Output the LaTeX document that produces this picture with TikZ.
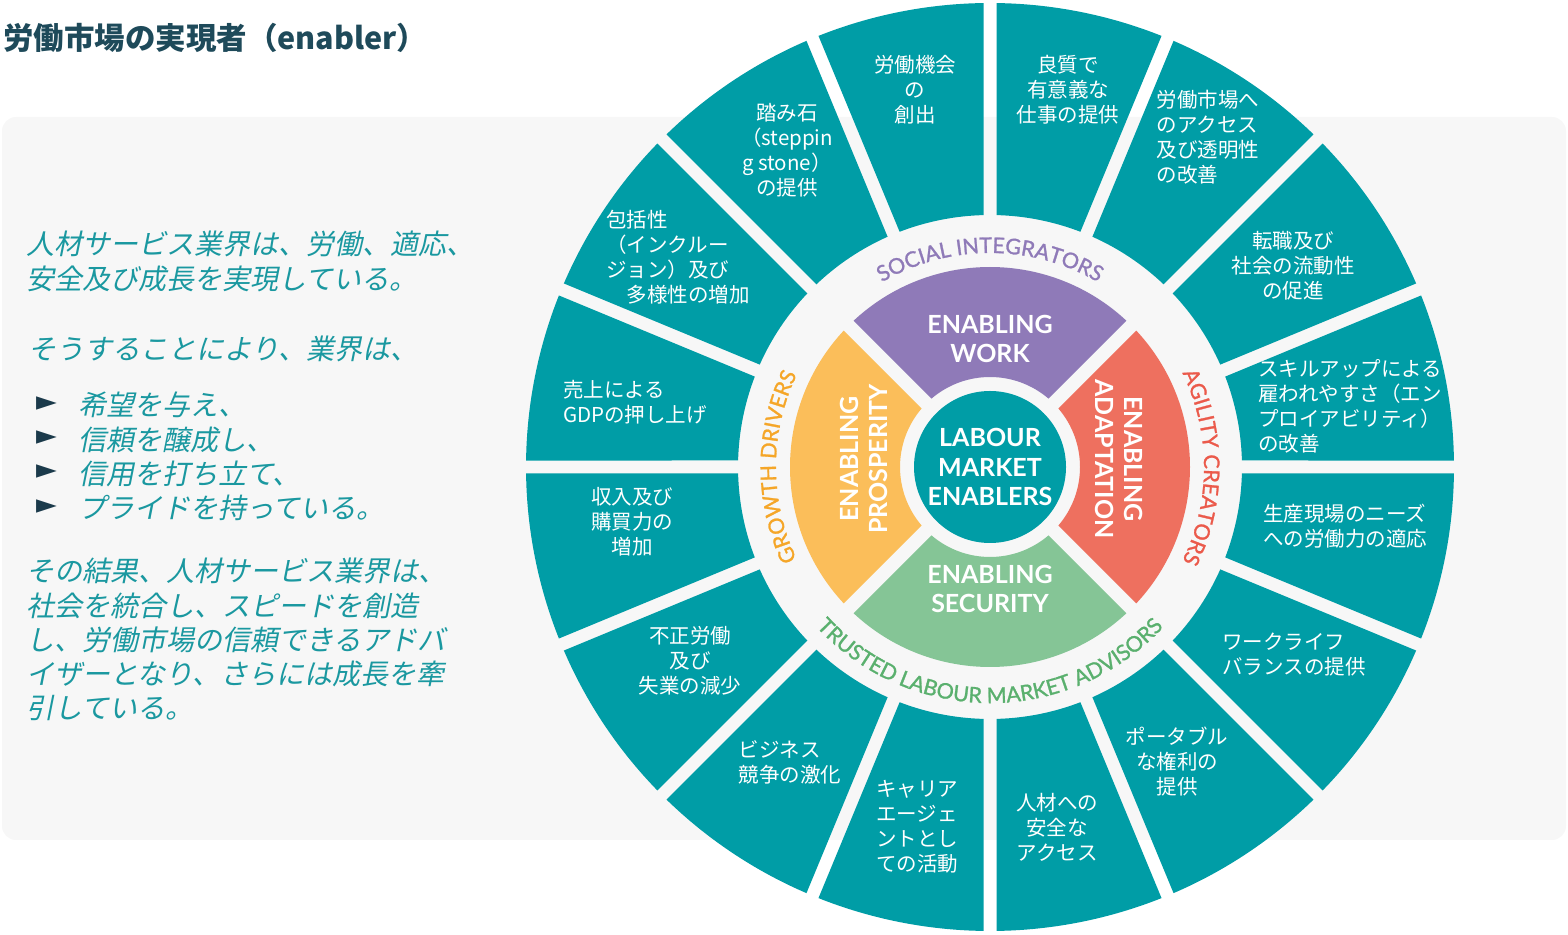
\documentclass[tikz,border=0pt]{standalone}
\usepackage{fontspec}
\setmainfont{Noto Sans CJK JP}
\newfontfamily\slantjp[FakeSlant=0.2]{Noto Sans CJK JP}
\newfontfamily\latofont{Lato}
\newfontfamily\curvefam[FakeBold=1.2]{Lato}
\newfontfamily\symbfont{DejaVu Sans}
\usetikzlibrary{decorations.text}

\definecolor{segteal}{RGB}{0,157,166}
\definecolor{panelgray}{RGB}{247,247,247}
\definecolor{titlenavy}{RGB}{30,74,90}
\definecolor{bodyteal}{RGB}{26,152,160}
\definecolor{bulletnavy}{RGB}{27,58,75}
\definecolor{workpurple}{RGB}{143,122,184}
\definecolor{prosyellow}{RGB}{251,190,90}
\definecolor{secgreen}{RGB}{133,197,150}
\definecolor{adaptred}{RGB}{238,112,95}
\definecolor{socialpurple}{RGB}{143,122,184}
\definecolor{agilityred}{RGB}{235,90,75}
\definecolor{growthorange}{RGB}{245,166,40}
\definecolor{trustgreen}{RGB}{90,176,110}

\newcommand{\curvefont}{\curvefam\fontsize{21.5}{21.5}\selectfont}

\begin{document}
\begin{tikzpicture}[x=1pt,y=1pt,
	seglabel/.style={text=white,font=\fontsize{20.5}{25}\selectfont,align=center,inner sep=0pt},
	seglabelL/.style={seglabel,align=left},
	hublabel/.style={text=white,font=\latofont\bfseries\fontsize{25}{29.5}\selectfont,align=center,inner sep=0pt},
	bodytext/.style={text=bodyteal,font=\slantjp\fontsize{28}{34.3}\selectfont,align=left,inner sep=0pt},
	bulletmark/.style={text=bulletnavy,font=\symbfont\fontsize{27}{27}\selectfont,inner sep=0pt}]
	\useasboundingbox (0,0) rectangle (1568,934);
	% draw background panel
	\fill[panelgray,rounded corners=14pt] (2,94) rectangle (1566,817);
	% draw title
	\node[anchor=west,inner sep=0pt,text=titlenavy,font=\bfseries\fontsize{30.5}{30.5}\selectfont] (title) at (3,896) {労働市場の実現者（enabler）};
	% draw left text
	\node[bodytext,anchor=north west] (intro) at (26,703) {人材サービス業界は、労働、適応、\\安全及び成長を実現している。};
	\node[bodytext,anchor=north west] (thereby) at (28,598) {そうすることにより、業界は、};
	\foreach \t [count=\i] in {希望を与え、,信頼を醸成し、,信用を打ち立て、,プライドを持っている。} {
		\node[bulletmark,anchor=west] (b\i) at (36,{565-34.3*\i}) {►};
		\node[bodytext,anchor=west] (t\i) at (78,{563-34.3*\i}) {\t};
	}
	\node[bodytext,anchor=north west] (result) at (26,376) {その結果、人材サービス業界は、\\社会を統合し、スピードを創造\\し、労働市場の信頼できるアドバ\\イザーとなり、さらには成長を牽\\引している。};
	\begin{scope}[shift={(990,467)}]
		% draw outer ring
		\pgfmathsetmacro\dR{asin(6.5/464)}
		\pgfmathsetmacro\dr{asin(6.5/252)}
		\foreach \a in {0,22.5,...,337.5} {
			\pgfmathsetmacro\sa{\a+\dR}
			\pgfmathsetmacro\ea{\a+22.5-\dR}
			\pgfmathsetmacro\si{\a+22.5-\dr}
			\pgfmathsetmacro\ei{\a+\dr}
			\fill[segteal] (\sa:464) arc[start angle=\sa,end angle=\ea,radius=464] -- (\si:252) arc[start angle=\si,end angle=\ei,radius=252] -- cycle;
		}
		% draw coloured quarters
		\pgfmathsetmacro\qR{asin(7/200)}
		\pgfmathsetmacro\qr{asin(7/90)}
		\foreach \a/\col in {45/workpurple,135/prosyellow,225/secgreen,315/adaptred} {
			\pgfmathsetmacro\sa{\a+\qR}
			\pgfmathsetmacro\ea{\a+90-\qR}
			\pgfmathsetmacro\si{\a+90-\qr}
			\pgfmathsetmacro\ei{\a+\qr}
			\fill[\col] (\sa:200) arc[start angle=\sa,end angle=\ea,radius=200] -- (\si:90) arc[start angle=\si,end angle=\ei,radius=90] -- cycle;
		}
		% hub and quarter labels
		\node[circle,fill=segteal,minimum size=152pt,hublabel] (hub) at (0,0) {LABOUR\\MARKET\\ENABLERS};
		\node[hublabel] (work) at (0,128) {ENABLING\\WORK};
		\node[hublabel] (security) at (0,-122) {ENABLING\\SECURITY};
		\node[hublabel,rotate=90] (prosperity) at (-126,8) {ENABLING\\PROSPERITY};
		\node[hublabel,rotate=-90] (adaptation) at (129,8) {ENABLING\\ADAPTATION};
		% curved ring labels
		\path[decorate,decoration={text along path,text align=center,text color=socialpurple,text={|\curvefont|SOCIAL INTEGRATORS}}] (160:214) arc[start angle=160,end angle=20,radius=214];
		\path[decorate,decoration={text along path,text align=center,text color=agilityred,text={|\curvefont|AGILITY CREATORS}}] (60:214) arc[start angle=60,end angle=-60,radius=214];
		\path[decorate,decoration={text along path,text align=center,text color=growthorange,text={|\curvefont|GROWTH DRIVERS}}] (240:214) arc[start angle=240,end angle=120,radius=214];
		\path[decorate,decoration={text along path,text align=center,text color=trustgreen,text={|\curvefont|TRUSTED LABOUR MARKET ADVISORS}}] (200:236) arc[start angle=200,end angle=340,radius=236];
		% segment labels
		\node[seglabel] (jobs) at (-75,377) {労働機会\\の\\創出};
		\node[seglabel] (quality) at (78,377) {良質で\\有意義な\\仕事の提供};
		\node[seglabelL] (access) at (218,330) {労働市場へ\\のアクセス\\及び透明性\\の改善};
		\node[seglabel] (mobility) at (303,201) {転職及び\\社会の流動性\\の促進};
		\node[seglabelL] (skills) at (360,61) {スキルアップによる\\雇われやすさ（エン\\プロイアビリティ）\\の改善};
		\node[seglabelL] (needs) at (355,-59) {生産現場のニーズ\\への労働力の適応};
		\node[seglabelL] (balance) at (304,-188) {ワークライフ\\バランスの提供};
		\node[seglabel] (portable) at (187,-295) {ポータブル\\な権利の\\提供};
		\node[seglabel] (safety) at (67,-360) {人材への\\安全な\\アクセス};
		\node[seglabelL] (career) at (-73,-360) {キャリア\\エージェ\\ントとし\\ての活動};
		\node[seglabelL] (business) at (-200,-295) {ビジネス\\競争の激化};
		\node[seglabel] (fraud) at (-300,-194) {不正労働\\及び\\失業の減少};
		\node[seglabel] (income) at (-358,-55) {収入及び\\購買力の\\増加};
		\node[seglabelL] (gdp) at (-355,65) {売上による\\GDPの押し上げ};
		\node[seglabelL] (inclusion) at (-312,210) {包括性\\（インクルー\\ジョン）及び\\\hspace*{1em}多様性の増加};
		\node[seglabel] (stepping) at (-203,317) {踏み石\\（steppin\\g stone）\\の提供};
	\end{scope}
\end{tikzpicture}
\end{document}
